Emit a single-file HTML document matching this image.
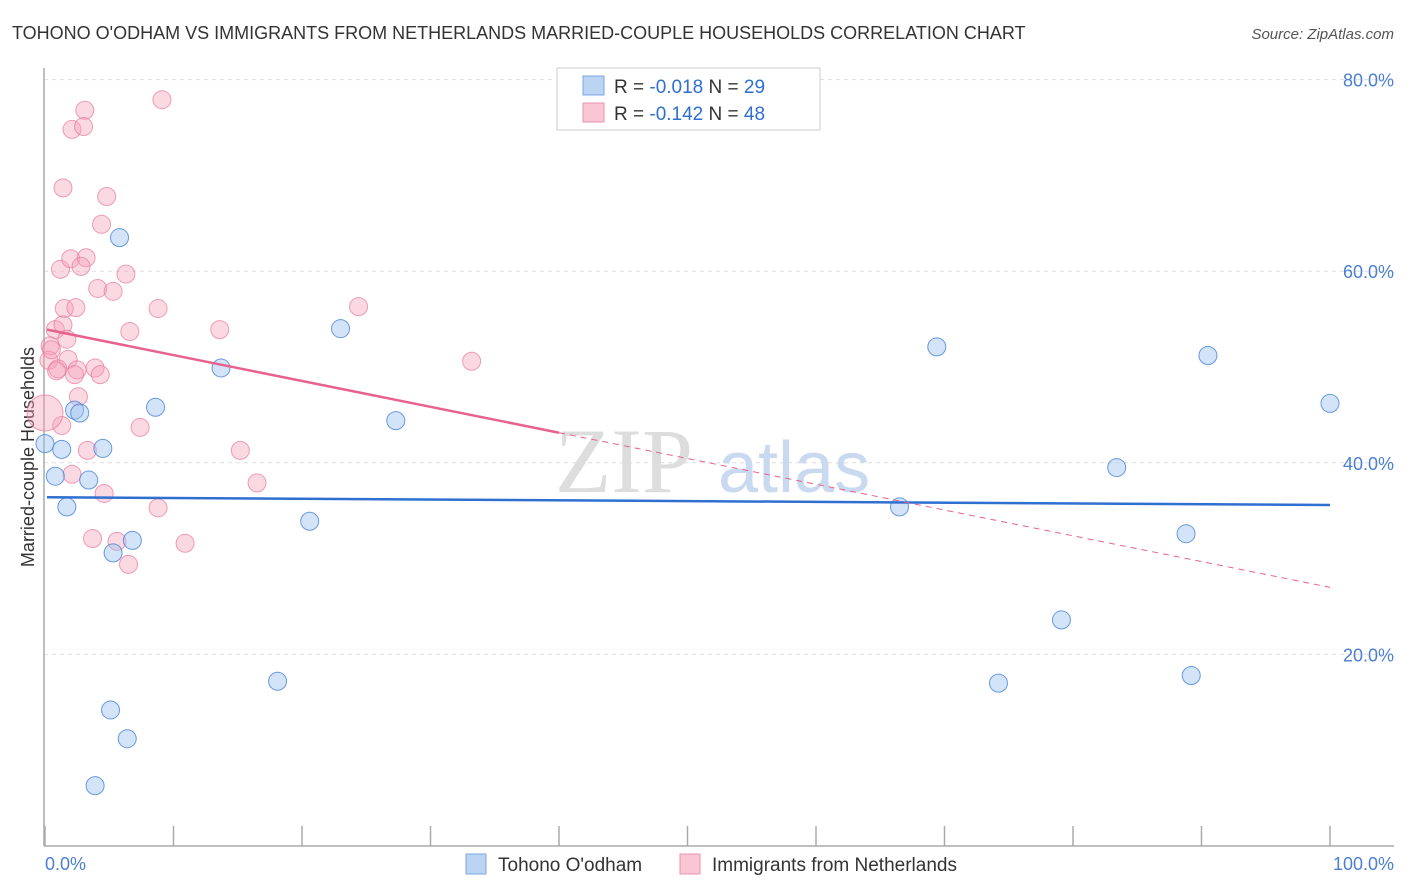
<!DOCTYPE html>
<html><head><meta charset="utf-8"><style>
body{margin:0;background:#fff;font-family:"Liberation Sans",sans-serif}
svg{display:block}
</style></head><body>
<svg id="chart" width="1406" height="892" viewBox="0 0 1406 892" xmlns="http://www.w3.org/2000/svg">
<text x="12" y="39" font-size="18" fill="#333" font-family="Liberation Sans, sans-serif">TOHONO O'ODHAM VS IMMIGRANTS FROM NETHERLANDS MARRIED-COUPLE HOUSEHOLDS CORRELATION CHART</text>
<text x="1394" y="39" font-size="15" fill="#555" text-anchor="end" font-style="italic">Source: ZipAtlas.com</text>
<g id="grid"></g>
<text x="555" y="492" font-size="92" fill="#ddd" font-family="Liberation Serif, serif">ZIP</text>
<text x="718" y="492" font-size="72" fill="#c9d9ef">atlas</text>
<line x1="44" y1="68" x2="44" y2="846" stroke="#aaa" stroke-width="1.5"/>
<line x1="44" y1="846" x2="1394" y2="846" stroke="#aaa" stroke-width="1.5"/>
<g id="xticks"></g>
<g id="yticks"></g>
<text transform="translate(34,457) rotate(-90)" font-size="18" fill="#333" text-anchor="middle">Married-couple Households</text>
<text x="45" y="870" font-size="18" fill="#4a7fd4">0.0%</text>
<text x="1394" y="870" font-size="18" fill="#4a7fd4" text-anchor="end">100.0%</text>
<g id="pts"></g>
<g id="lines"></g>
<g>
<rect x="557" y="68" width="263" height="62" fill="#fff" stroke="#ccc"/>
<rect x="583" y="76" width="21" height="19" fill="#bcd4f4" stroke="#7aa6e0"/>
<rect x="583" y="103" width="21" height="19" fill="#f9c6d5" stroke="#ec93ad"/>
<text x="614" y="93" font-size="19" fill="#333">R = <tspan fill="#2f6fd0">-0.018</tspan>   N = <tspan fill="#2f6fd0">29</tspan></text>
<text x="614" y="120" font-size="19" fill="#333">R = <tspan fill="#2f6fd0"> -0.142</tspan>   N = <tspan fill="#2f6fd0">48</tspan></text>
</g>
<g>
<rect x="466" y="854" width="20" height="20" fill="#bcd4f4" stroke="#7aa6e0"/>
<text x="498" y="871" font-size="19" fill="#333">Tohono O'odham</text>
<rect x="680" y="854" width="20" height="20" fill="#f9c6d5" stroke="#ec93ad"/>
<text x="712" y="871" font-size="19" fill="#333">Immigrants from Netherlands</text>
</g>
</svg>
<script>
const yTicks=[20,40,60,80];
const xTickVals=[0,10,20,30,40,50,60,70,80,90,100];
const blueX=[5.8,23.0,13.7,8.6,2.3,2.7,0,1.3,4.5,0.8,3.4,1.7,6.8,5.3,20.6,27.3,69.4,90.5,100,83.4,66.5,88.8,79.1,18.1,74.2,89.2,5.1,6.4,3.9];
const blueY=[63.5,54.0,49.9,45.8,45.5,45.2,42.0,41.4,41.5,38.6,38.2,35.4,31.9,30.6,33.9,44.4,52.1,51.2,46.2,39.5,35.4,32.6,23.6,17.2,17.0,17.8,14.2,11.2,6.3];
const pinkX=[9.1,3.1,2.1,3.0,1.4,4.8,4.4,1.2,2.0,3.2,2.8,6.3,4.1,5.3,1.5,2.4,8.8,24.4,6.6,13.6,0.8,1.4,1.7,0.4,1.8,0.3,3.9,1.0,2.5,0.9,2.3,2.6,33.2,7.4,1.3,15.2,3.3,2.1,16.5,4.6,8.8,3.7,5.6,10.9,6.5,0,0.5,4.3];
const pinkY=[77.9,76.8,74.8,75.1,68.7,67.8,64.9,60.2,61.3,61.4,60.5,59.7,58.2,57.9,56.1,56.2,56.1,56.3,53.7,53.9,53.9,54.4,52.9,52.2,50.8,50.7,49.9,49.8,49.7,49.6,49.2,46.9,50.6,43.7,43.9,41.3,41.3,38.8,37.9,36.8,35.3,32.1,31.8,31.6,29.4,45.2,51.8,49.2];
const blueFit=[36.4,35.6];
const pinkFit=[53.9,27.0];
const pinkSolidEnd=40;
const NS='http://www.w3.org/2000/svg';
const X0=45,X1=1330,Y0=846,YPX=9.58;
const sx=v=>X0+(X1-X0)*v/100, sy=v=>Y0-YPX*v;
function mk(t,a,p){const e=document.createElementNS(NS,t);for(const k in a)e.setAttribute(k,a[k]);p.appendChild(e);return e;}
const grid=document.getElementById('grid'),yt=document.getElementById('yticks'),xt=document.getElementById('xticks');
yTicks.forEach(v=>{
 const l=mk('line',{x1:44,x2:1394,y1:sy(v),y2:sy(v),stroke:'#ddd','stroke-dasharray':'4,4'},grid);
 
 
 const t=mk('text',{x:1394,y:sy(v)+7,'font-size':18,fill:'#4a7fd4','text-anchor':'end'},yt);
 
 
 t.textContent=v.toFixed(1)+'%';
});
xTickVals.forEach(v=>{
 const l=mk('line',{x1:sx(v),x2:sx(v),y1:826,y2:846,stroke:'#aaa','stroke-width':1.5},xt);
 
 
});
const pts=document.getElementById('pts');
pinkX.forEach((x,i)=>{
 const c=mk('circle',{cx:sx(x),cy:sy(pinkY[i]),r:(x===0?18:9),fill:'rgba(244,160,185,0.4)',stroke:'rgba(232,120,155,0.7)','stroke-width':1},pts);
 
 
});
blueX.forEach((x,i)=>{
 const c=mk('circle',{cx:sx(x),cy:sy(blueY[i]),r:9,fill:'rgba(160,195,240,0.45)',stroke:'rgba(70,130,215,0.8)','stroke-width':1},pts);
 
 
});
const ln=document.getElementById('lines');
const bl=mk('line',{x1:sx(0)+2,y1:sy(blueFit[0]),x2:sx(100),y2:sy(blueFit[1]),stroke:'#2f6fd0','stroke-width':2.5},ln);


const pf=x=>pinkFit[0]+(pinkFit[1]-pinkFit[0])*x/100;
const ps=mk('line',{x1:sx(0)+2,y1:sy(pf(0)),x2:sx(pinkSolidEnd),y2:sy(pf(pinkSolidEnd)),stroke:'#e8628e','stroke-width':2.5},ln);


const pd=mk('line',{x1:sx(pinkSolidEnd),y1:sy(pf(pinkSolidEnd)),x2:sx(100),y2:sy(pf(100)),stroke:'#e8628e','stroke-width':1,'stroke-dasharray':'6,5'},ln);


</script>
</body></html>
